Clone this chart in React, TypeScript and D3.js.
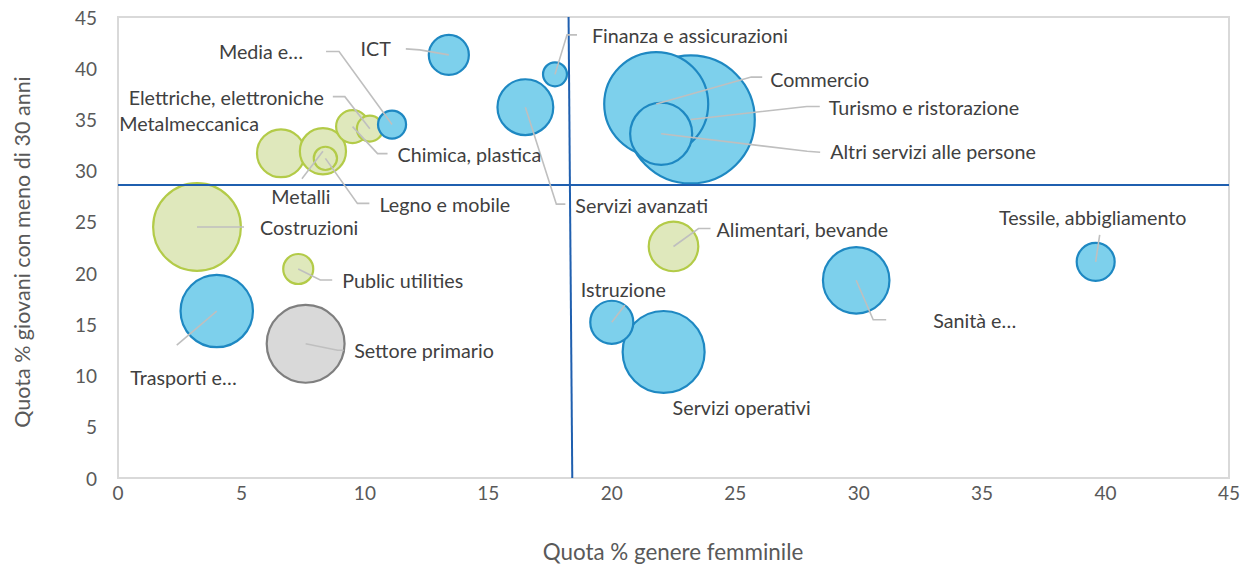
import React from "react";
import * as d3 from "d3";

// sectors: share of women (x), share of under-30 (y), bubble size
const sectors = [
  "ICT", "Finanza e assicurazioni", "Media e…", "Elettriche, elettroniche", "Chimica, plastica",
  "Metalmeccanica", "Metalli", "Legno e mobile", "Servizi avanzati", "Commercio",
  "Turismo e ristorazione", "Altri servizi alle persone", "Costruzioni", "Public utilities",
  "Trasporti e…", "Settore primario", "Alimentari, bevande", "Tessile, abbigliamento",
  "Sanità e…", "Istruzione", "Servizi operativi",
];
const femaleShare = [13.4, 17.7, 11.1, 10.2, 9.5, 6.6, 8.3, 8.4, 16.5, 21.8, 23.2, 22.0, 3.2, 7.3, 4.0, 7.6, 22.5, 39.6, 29.9, 20.0, 22.1];
const youngShare = [41.3, 39.4, 34.5, 34.1, 34.3, 31.7, 31.9, 31.2, 36.2, 36.5, 35.0, 33.6, 24.5, 20.4, 16.3, 13.1, 22.6, 21.1, 19.3, 15.2, 12.3];
const bubbleSize = [9.8, 3.5, 4.8, 4.1, 6.6, 14, 13, 3.3, 19, 66, 100, 23.5, 47, 5.5, 32, 37, 15, 8.8, 27, 11.3, 41];
// group: b = servizi, g = industria, p = primario
const group = ["b", "b", "b", "g", "g", "g", "g", "g", "b", "b", "b", "b", "g", "g", "b", "p", "g", "b", "b", "b", "b"];

const xTicks = [0, 5, 10, 15, 20, 25, 30, 35, 40, 45];
const yTicks = [0, 5, 10, 15, 20, 25, 30, 35, 40, 45];
const refX = [18.25, 18.4]; // vertical reference line (top, bottom)
const refY = 28.6;

// label placement (px offsets from bubble centre) and leader elbows
const labelLayout: Record<string, { t: [number, number]; a: string; l?: [number, number][] }> = {
  "ICT": { t: [-58, -6], a: "end", l: [[-29, -5], [-43, -6]] },
  "Finanza e assicurazioni": { t: [37, -38.5], a: "start", l: [[12, -39.5], [22, -39.5]] },
  "Media e…": { t: [-89, -73], a: "end", l: [[-53, -73], [-66, -73]] },
  "Elettriche, elettroniche": { t: [-46, -31.5], a: "end", l: [[-25, -32], [-37, -32]] },
  "Chimica, plastica": { t: [45, 28], a: "start", l: [[25, 27], [35, 27]] },
  "Metalmeccanica": { t: [-22, -30], a: "end" },
  "Metalli": { t: [-22, 45.5], a: "middle", l: [[-21, 27.5]] },
  "Legno e mobile": { t: [54, 46], a: "start", l: [[32, 45], [44, 45]] },
  "Servizi avanzati": { t: [50, 98], a: "start", l: [[31, 97], [40, 97]] },
  "Commercio": { t: [114, -25], a: "start", l: [[95, -27], [106, -27]] },
  "Turismo e ristorazione": { t: [138, -12], a: "start", l: [[116, -13], [129, -13]] },
  "Altri servizi alle persone": { t: [169, 17.5], a: "start", l: [[146, 17.5], [159, 18.5]] },
  "Costruzioni": { t: [63, 0], a: "start", l: [[47, 0]] },
  "Public utilities": { t: [44, 11], a: "start", l: [[22, 11], [34, 11]] },
  "Trasporti e…": { t: [-86.5, 66], a: "start", l: [[-40, 34]] },
  "Settore primario": { t: [48.5, 6.5], a: "start", l: [[32, 6.5], [38, 6.5]] },
  "Alimentari, bevande": { t: [43, -17], a: "start", l: [[25, -18], [37, -18]] },
  "Tessile, abbigliamento": { t: [-3, -44], a: "middle", l: [[4, -27]] },
  "Sanità e…": { t: [77, 40.5], a: "start", l: [[17, 39.5], [30, 39.5]] },
  "Istruzione": { t: [-31, -33], a: "start", l: [[13, -17]] },
  "Servizi operativi": { t: [9, 55.5], a: "start" },
};

const palette: Record<string, { fill: string; stroke: string }> = {
  b: { fill: "#7DD0EC", stroke: "#1E88C2" },
  g: { fill: "#DFE8BC", stroke: "#B3CB48" },
  p: { fill: "#D9D9D9", stroke: "#7F7F7F" },
};

const W = 1250;
const H = 567;
const font = "Lato, 'Open Sans', sans-serif";
const textColor = "#595959";

export default function App() {
  const x = d3.scaleLinear().domain([0, 45]).range([118, 1229]);
  const y = d3.scaleLinear().domain([0, 45]).range([478, 17]);
  const r = d3.scaleSqrt().domain([0, 100]).range([0, 64]);

  const rows = sectors.map((name, i) => ({
    name,
    cx: x(femaleShare[i]),
    cy: y(youngShare[i]),
    rad: r(bubbleSize[i]),
    g: group[i],
  }));
  // green series under blue; within series largest first
  const order = { g: 0, p: 1, b: 2 } as Record<string, number>;
  const drawn = [...rows].sort((a, b) => order[a.g] - order[b.g] || b.rad - a.rad);

  const line = d3.line();

  return (
    <svg width={W} height={H} style={{ position: "absolute", left: 0, top: 0, background: "#fff" }} fontFamily={font}>
      <rect x={x(0)} y={y(45)} width={x(45) - x(0)} height={y(0) - y(45)} fill="none" stroke="#D9D9D9" strokeWidth={2} />

      {drawn.map((d) => (
        <circle key={d.name} cx={d.cx} cy={d.cy} r={d.rad} fill={palette[d.g].fill} stroke={palette[d.g].stroke} strokeWidth={2.2} />
      ))}

      <line x1={x(0)} x2={x(45)} y1={y(refY)} y2={y(refY)} stroke="#1F5FAF" strokeWidth={2} />
      <line x1={x(refX[0])} x2={x(refX[1])} y1={y(45)} y2={y(0)} stroke="#1F5FAF" strokeWidth={2} />

      {rows.map((d) => {
        const lay = labelLayout[d.name];
        if (!lay.l) return null;
        const pts: [number, number][] = [[d.cx, d.cy], ...lay.l.map(([dx, dy]) => [d.cx + dx, d.cy + dy] as [number, number])];
        return <path key={"l" + d.name} d={line(pts) || ""} fill="none" stroke="#BFBFBF" strokeWidth={1.6} />;
      })}

      {rows.map((d) => {
        const lay = labelLayout[d.name];
        return (
          <text key={"t" + d.name} x={d.cx + lay.t[0]} y={d.cy + lay.t[1]} textAnchor={lay.a} dominantBaseline="central" fontSize={19.7} fill="#404040">
            {d.name}
          </text>
        );
      })}

      {xTicks.map((t) => (
        <text key={"x" + t} x={x(t)} y={492} textAnchor="middle" dominantBaseline="central" fontSize={19} fill={textColor}>
          {t}
        </text>
      ))}
      {yTicks.map((t) => (
        <text key={"y" + t} x={97} y={y(t)} textAnchor="end" dominantBaseline="central" fontSize={19} fill={textColor}>
          {t}
        </text>
      ))}

      <text x={673} y={551} textAnchor="middle" dominantBaseline="central" fontSize={22.4} fill={textColor}>
        Quota % genere femminile
      </text>
      <text transform={`translate(22, ${252}) rotate(-90)`} textAnchor="middle" dominantBaseline="central" fontSize={21.5} fill={textColor}>
        Quota % giovani con meno di 30 anni
      </text>
    </svg>
  );
}
